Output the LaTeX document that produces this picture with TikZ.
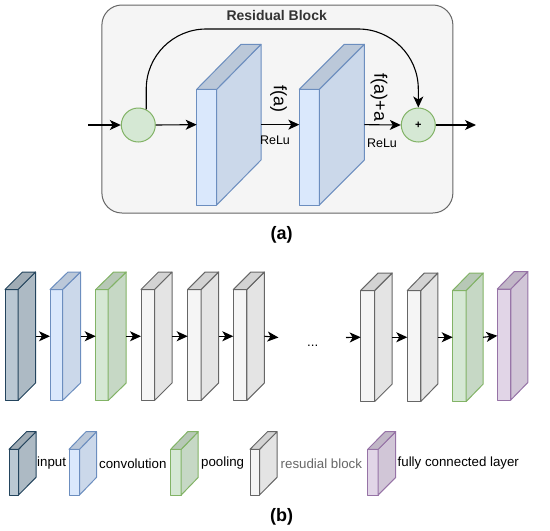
\documentclass[tikz,border=0pt]{standalone}
\usepackage{fontspec}
\setmainfont{Liberation Sans}
\usetikzlibrary{arrows.meta}
\definecolor{cblue}{HTML}{DAE8FC}\definecolor{sblue}{HTML}{6C8EBF}
\definecolor{cgreen}{HTML}{D5E8D4}\definecolor{sgreen}{HTML}{82B366}
\definecolor{cgray}{HTML}{F5F5F5}\definecolor{sgray}{HTML}{666666}
\definecolor{cpurple}{HTML}{E1D5E7}\definecolor{spurple}{HTML}{9673A6}
\definecolor{cdark}{HTML}{BAC8D3}\definecolor{sdark}{HTML}{23445D}
\definecolor{boxfill}{HTML}{F5F5F5}\definecolor{boxline}{HTML}{666666}
% name, x, ytop(front), front width, depth dx, depth dy, height, fill, stroke
\newcommand\slab[9]{%
  \draw[line width=1pt, line join=round, fill=#8, draw=#9] (#2,#3) rectangle ++(#4,#7);
  \draw[line width=1pt, line join=round, fill=#8!93!black, draw=#9] ({#2+#4},#3) -- ++(#5,-#6) -- ++(0,#7) -- ++(-#5,#6) -- cycle;
  \draw[line width=1pt, line join=round, fill=#8!86!black, draw=#9] (#2,#3) -- ++(#5,-#6) -- ++(#4,0) -- ++(-#5,#6) -- cycle;
  \coordinate (#1-in) at (#2,{#3+(#7-#6)/2});
  \coordinate (#1-out) at ({#2+#4+#5},{#3+(#7-#6)/2});
}
\tikzset{
  arr/.style={line width=1.1pt, -{Stealth[length=11pt,width=10pt,inset=3pt]}},
  circ/.style={circle, minimum size=34pt, inner sep=0pt, line width=1pt, fill=cgreen, draw=sgreen},
  lbl/.style={font=\fontsize{13.3}{16}\selectfont, inner sep=0pt, anchor=west},
  relu/.style={font=\fontsize{12.5}{15}\selectfont, inner sep=0pt},
  rot/.style={font=\fontsize{18}{20}\selectfont, inner sep=0pt, rotate=-90},
  caption/.style={font=\bfseries\fontsize{18}{20}\selectfont, inner sep=0pt},
}
\begin{document}
\begin{tikzpicture}[x=1pt,y=-1pt]
\useasboundingbox (0,0) rectangle (550,531);
% ---------- (a) residual block ----------
\node[rectangle, rounded corners=20pt, minimum width=351pt, minimum height=208pt,
      fill=boxfill, draw=boxline, line width=1pt] (box) at (277.4,109) {};
\node[font=\bfseries\fontsize{14}{16}\selectfont, text=black!80, inner sep=0pt] (title) at (276.7,15.5) {Residual Block};
\node[circ] (c1) at (138.3,125) {};
\node[circ, font=\bfseries\fontsize{11}{12}\selectfont] (c2) at (418.3,125) {+};
\slab{b1}{196.7}{89.3}{20}{44.3}{45}{115.7}{cblue}{sblue}
\slab{b2}{299.3}{89.3}{20}{45}{45}{115.7}{cblue}{sblue}
\coordinate (ain) at (88.3,125);
\coordinate (aout) at (476,125);
\coordinate (top) at (0,29);
\draw[arr] (ain) -- (c1.west);
\draw[arr] (c1.east) -- (b1-in);
\draw[arr] (b1-out) -- (b2-in);
\draw[arr] (b2-out) -- (c2.west);
\draw[arr] (c2.east) -- (aout);
\draw[arr, rounded corners=60pt] (c1.63) -- (c1.63 |- top) -- (c2.north |- top) -- (c2.north);
\node[rot] (fa) at (278.5,99) {f(a)};
\node[rot] (faa) at (379,97.5) {f(a)+a};
\node[relu] (r1) at (275,140) {ReLu};
\node[relu] (r2) at (382,143) {ReLu};
\node[caption] (capa) at (281.7,235) {(a)};
% ---------- (b) network ----------
\slab{n1}{5}{289.5}{13}{17.5}{17.5}{111}{cdark}{sdark}
\slab{n2}{50}{289.5}{12.5}{18}{17.5}{111}{cblue}{sblue}
\slab{n3}{95.7}{289.5}{12.5}{18}{17.5}{111}{cgreen}{sgreen}
\slab{n4}{141}{289.5}{13.5}{17.5}{17.5}{111}{cgray}{sgray}
\slab{n5}{187.7}{289.5}{13.5}{17.5}{17.5}{111}{cgray}{sgray}
\slab{n6}{233.3}{289.5}{13.5}{17.5}{17.5}{111}{cgray}{sgray}
\slab{n7}{360.7}{290.5}{14}{17.5}{17.5}{111}{cgray}{sgray}
\slab{n8}{407.3}{290.5}{13.5}{17}{17.5}{111}{cgray}{sgray}
\slab{n9}{452.7}{290.5}{13.5}{17}{17.5}{111}{cgreen}{sgreen}
\slab{n10}{497.3}{289}{13.5}{17}{17.5}{111}{cpurple}{spurple}
\draw[arr] (n1-out) -- (n2-in);
\draw[arr] (n2-out) -- (n3-in);
\draw[arr] (n3-out) -- (n4-in);
\draw[arr] (n4-out) -- (n5-in);
\draw[arr] (n5-out) -- (n6-in);
\coordinate (gapL) at (278.5,337.5);
\coordinate (gapR) at (346,337.5);
\draw[arr] (n6-out) -- (gapL);
\node[font=\fontsize{13.3}{16}\selectfont, anchor=base, inner sep=0pt] (dots) at (312.7,346) {...};
\draw[arr] (gapR) -- (n7-in);
\draw[arr] (n7-out) -- (n8-in);
\draw[arr] (n8-out) -- (n9-in);
\draw[arr] (n9-out) -- (n10-in);
% ---------- legend ----------
\slab{l1}{9}{449.3}{9.5}{17.5}{17.6}{45.7}{cdark}{sdark}
\slab{l2}{69}{449.3}{10.5}{17}{17.6}{45.7}{cblue}{sblue}
\slab{l3}{170.7}{449.3}{10.5}{17}{17.6}{45.7}{cgreen}{sgreen}
\slab{l4}{250}{449.3}{9.5}{17.5}{17.6}{45.7}{cgray}{sgray}
\slab{l5}{367.7}{449.3}{10.5}{17.5}{17.6}{45.7}{cpurple}{spurple}
\node[lbl] (t1) at (37,463.3) {input};
\node[lbl] (t2) at (99,463.3) {convolution};
\node[lbl] (t3) at (201,463.3) {pooling};
\node[lbl, text=sgray] (t4) at (280.5,463.3) {resudial block};
\node[lbl] (t5) at (397.5,463.3) {fully connected layer};
\node[caption] (capb) at (281.7,516.7) {(b)};
\end{tikzpicture}
\end{document}
